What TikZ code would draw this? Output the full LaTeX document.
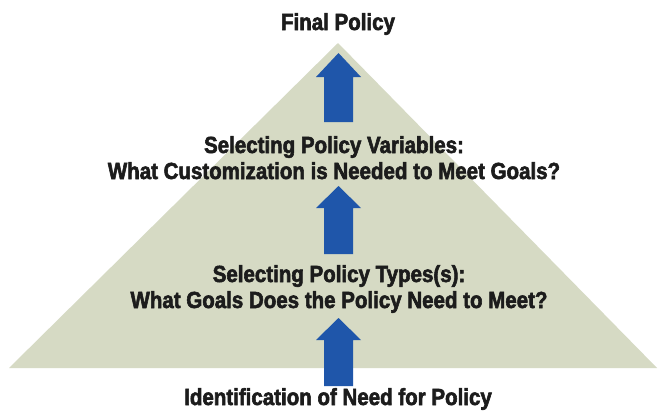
\documentclass[tikz,border=0pt]{standalone}
\usepackage{fontspec}
\setmainfont{Liberation Sans}[FakeStretch=0.88]
\definecolor{pyr}{RGB}{214,218,196}
\definecolor{arrowblue}{RGB}{31,86,170}
\definecolor{txt}{RGB}{28,28,28}
\begin{document}
\begin{tikzpicture}[x=1pt,y=-1pt,
  lbl/.style={font=\fontsize{23.3}{26}\selectfont\addfontfeatures{FakeBold=2.4}\bfseries, text=txt, align=center, anchor=base, inner sep=0pt},
  blockarrow/.style={fill=arrowblue, draw=none}]
\useasboundingbox (0,0) rectangle (660,416);
\fill[white] (0,0) rectangle (660,416);
% pyramid
\coordinate (apex) at (338,43);
\coordinate (bl) at (9,368);
\coordinate (br) at (657,368);
\fill[pyr] (apex) -- (br) -- (bl) -- cycle;
% texts (base anchor = baseline of last line)
\node[lbl] (final) at (338,30) {Final Policy};
\node[lbl] (vars) at (334,179) {Selecting Policy Variables:\\What Customization is Needed to Meet Goals?};
\node[lbl] (types) at (339,308) {Selecting Policy Types(s):\\What Goals Does the Policy Need to Meet?};
\node[lbl] (need) at (338,405) {Identification of Need for Policy};
% block arrows
\newcommand{\blockarr}[4]{% x, tip y, head base y, bottom y
  \fill[blockarrow] (#1,#2) -- (#1+22.5,#3) -- (#1+14.5,#3) -- (#1+14.5,#4)
    -- (#1-14.5,#4) -- (#1-14.5,#3) -- (#1-22.5,#3) -- cycle;}
\blockarr{338.5}{53}{77}{122}
\blockarr{338.5}{186}{208}{254}
\blockarr{338.5}{318}{340}{386}
\end{tikzpicture}
\end{document}
